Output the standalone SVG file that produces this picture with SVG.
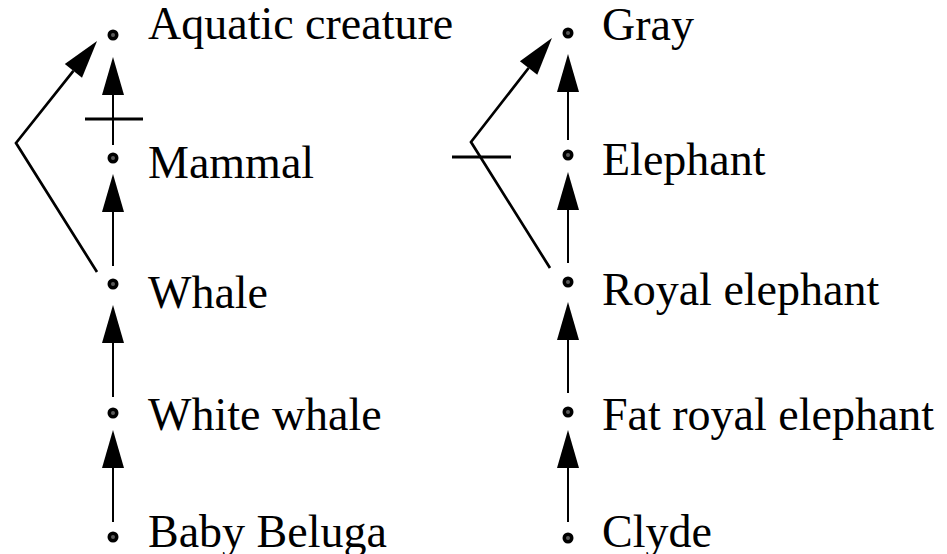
<svg xmlns="http://www.w3.org/2000/svg" width="947" height="554" viewBox="0 0 947 554">
<style>
  .lbl { font-family: "Liberation Serif", "Times New Roman", serif; font-size: 46px; fill: #000; }
  .v { fill: none; stroke: #000; stroke-width: 2; marker-end: url(#ah); }
  .b { fill: none; stroke: #000; stroke-width: 2.7; stroke-linejoin: miter; stroke-miterlimit: 10; marker-end: url(#ah); }
  .tick { stroke: #000; stroke-width: 3; fill: none; }
</style>
<defs>
  <marker id="ah" markerUnits="userSpaceOnUse" markerWidth="40" markerHeight="24" refX="0" refY="12" orient="auto" overflow="visible">
    <path d="M38,12 L0,1 L0,23 Z" fill="#000"/>
  </marker>
  <g id="dot"><circle cx="0" cy="0" r="5.5" fill="#000"/><circle cx="0" cy="0" r="2" fill="#5a5a5a"/></g>
</defs>
<rect width="947" height="554" fill="#fff"/>
<g id="connectors">
  <path class="v" d="M113,145 L113,95"/>
  <path class="v" d="M113,266 L113,212"/>
  <path class="v" d="M113,397 L113,343"/>
  <path class="v" d="M113,522 L113,468"/>
  <path class="b" d="M97,272 L16,143 L73.4,70.8"/>
  <line class="tick" x1="85" y1="119" x2="143" y2="119"/>
  <path class="v" d="M568,140 L568,92"/>
  <path class="v" d="M568,263 L568,210"/>
  <path class="v" d="M568,393 L568,340"/>
  <path class="v" d="M568,522 L568,468"/>
  <path class="b" d="M550,268 L471,142 L528.6,68"/>
  <line class="tick" x1="452" y1="157" x2="511" y2="157"/>
</g>
<g id="aquatic"><use href="#dot" x="113" y="35"/><text class="lbl" x="148" y="39">Aquatic creature</text></g>
<g id="mammal"><use href="#dot" x="113" y="158"/><text class="lbl" x="148" y="178">Mammal</text></g>
<g id="whale"><use href="#dot" x="113" y="284"/><text class="lbl" x="148" y="308">Whale</text></g>
<g id="whitewhale"><use href="#dot" x="113" y="413"/><text class="lbl" x="148" y="430">White whale</text></g>
<g id="babybeluga"><use href="#dot" x="113" y="537"/><text class="lbl" x="148" y="547">Baby Beluga</text></g>
<g id="gray"><use href="#dot" x="568" y="33"/><text class="lbl" x="602" y="40">Gray</text></g>
<g id="elephant"><use href="#dot" x="568" y="155"/><text class="lbl" x="602" y="175">Elephant</text></g>
<g id="royalelephant"><use href="#dot" x="568" y="282"/><text class="lbl" x="602" y="305">Royal elephant</text></g>
<g id="fatroyalelephant"><use href="#dot" x="568" y="412"/><text class="lbl" x="602" y="430">Fat royal elephant</text></g>
<g id="clyde"><use href="#dot" x="568" y="538"/><text class="lbl" x="602" y="547">Clyde</text></g>
</svg>
